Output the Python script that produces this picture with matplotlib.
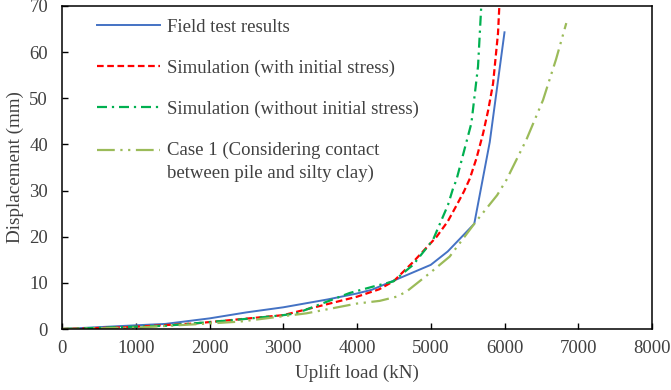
import numpy as np
import matplotlib
matplotlib.use("Agg")
import matplotlib.pyplot as plt
from matplotlib.legend_handler import HandlerLine2D
from matplotlib.lines import Line2D

# ---- data ----
field_x = [0, 1000, 1400, 2000, 2500, 3000, 3600, 4000, 4200, 4500, 5000, 5230, 5590, 5800, 6000]
field_y = [0, 0.8, 1.1, 2.3, 3.6, 4.7, 6.4, 7.7, 8.5, 10.5, 13.9, 16.8, 22.8, 40.5, 64.3]

with_x = [0, 900, 1800, 2400, 3000, 3500, 4000, 4300, 4500, 4760, 5080, 5230, 5350, 5450, 5530, 5620, 5710, 5780, 5845, 5912, 5930]
with_y = [0, 0.4, 1.2, 2.1, 3.0, 5.0, 7.0, 8.6, 10.4, 14.5, 20.0, 23.3, 26.8, 29.8, 32.6, 37.0, 42.4, 47.5, 53.2, 64.1, 70.0]

without_x = [0, 1400, 2000, 2500, 3000, 3180, 3540, 3900, 4220, 4490, 4760, 5030, 5234, 5303, 5348, 5551, 5641, 5685]
without_y = [0, 0.7, 1.5, 2.2, 3.0, 3.4, 5.6, 7.8, 9.2, 10.3, 13.9, 19.3, 26.9, 30.5, 32.3, 44.6, 56.9, 70.0]

case1_x = [0, 1000, 2000, 2412, 3316, 3993, 4309, 4535, 4671, 4986, 5257, 5590, 5664, 5900, 6026, 6296, 6522, 6700, 6838]
case1_y = [0, 0.3, 1.2, 1.6, 3.4, 5.5, 6.1, 7.0, 8.1, 12.1, 15.7, 22.8, 24.3, 29.0, 32.3, 41.0, 49.6, 58.5, 66.3]

labels = ["Field test results",
          "Simulation (with initial stress)",
          "Simulation (without initial stress)",
          "Case 1 (Considering contact\nbetween pile and silty clay)"]

x_ticks = [0, 1000, 2000, 3000, 4000, 5000, 6000, 7000, 8000]
y_ticks = [0, 10, 20, 30, 40, 50, 60, 70]

# ---- style ----
plt.rcParams['font.family'] = ['Liberation Serif', 'DejaVu Serif']
TXT = '#404040'
FS = 13.5

fig = plt.figure(figsize=(6.71, 3.90), dpi=100)
ax = fig.add_axes([62/671, 1 - 329/390, (652-62)/671, (329-6)/390])

ax.plot(field_x, field_y, color='#4472C4', lw=1.4, label=labels[0])
ax.plot(with_x, with_y, color='#FF0000', lw=1.6, dashes=(3, 1.6), label=labels[1])
ax.plot(without_x, without_y, color='#00B050', lw=1.6, dashes=(4.5, 2.2, 1, 2.2), label=labels[2])
ax.plot(case1_x, case1_y, color='#9BBB59', lw=1.6, dashes=(8, 2.5, 1, 2.5, 1, 2.5), label=labels[3])

ax.set_xlim(0, 8000)
ax.set_ylim(0, 70)
ax.set_xticks(x_ticks)
ax.set_yticks(y_ticks)
ax.tick_params(direction='in', length=4, width=1, colors='black', labelcolor=TXT, labelsize=FS)
ax.tick_params(axis='x', pad=8)
ax.tick_params(axis='y', pad=10)
for s in ax.spines.values():
    s.set_linewidth(1.1)
    s.set_color('black')

ax.set_xlabel("Uplift load (kN)", fontsize=13.8, color=TXT, labelpad=5)
ax.set_ylabel("Displacement (mm)", fontsize=13.8, color=TXT, labelpad=4)


class TopLineHandler(HandlerLine2D):
    """Place the legend line next to the first line of a two-line label."""
    def __init__(self, shift, **kw):
        super().__init__(**kw)
        self.shift = shift

    def create_artists(self, legend, orig_handle, xdescent, ydescent, width, height, fontsize, trans):
        arts = super().create_artists(legend, orig_handle, xdescent, ydescent, width, height, fontsize, trans)
        for a in arts:
            if isinstance(a, Line2D):
                a.set_ydata(np.asarray(a.get_ydata(), dtype=float) + self.shift)
        return arts


handles, labs = ax.get_legend_handles_labels()
leg = ax.legend(handles, labs, loc='upper left', bbox_to_anchor=(0.059, 0.96),
                frameon=False, fontsize=FS, handlelength=3.36, handletextpad=0.37,
                labelspacing=1.26, borderaxespad=0, borderpad=0,
                handler_map={handles[3]: TopLineHandler(shift=8.6)})
for t in leg.get_texts():
    t.set_color(TXT)
    t.set_linespacing(1.42)

fig.savefig("out.png", dpi=100)
